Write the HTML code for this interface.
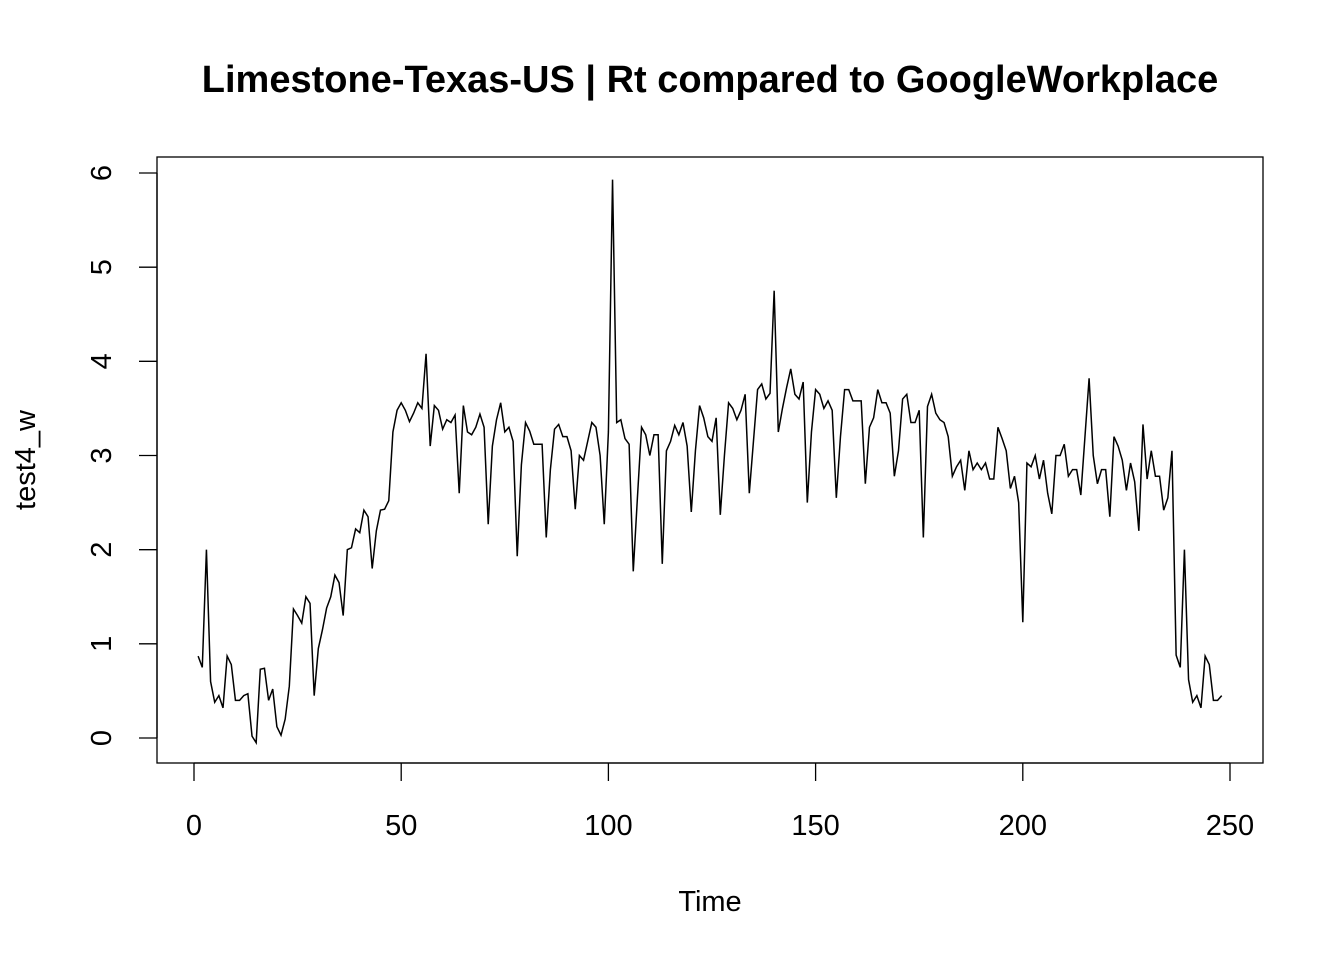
<!DOCTYPE html>
<html><head><meta charset="utf-8"><style>
body{margin:0;background:#fff;}
svg text{font-family:"Liberation Sans",Arial,sans-serif;fill:#000;}
</style></head><body>
<svg id="chart" width="1344" height="960">
<text x="710" y="92" text-anchor="middle" font-size="38" font-weight="bold">Limestone-Texas-US | Rt compared to GoogleWorkplace</text>
<rect x="157" y="157" width="1106" height="606" fill="none" stroke="#000" stroke-width="1.3"/>
<g id="xaxis"></g>
<g id="yaxis"></g>
<text x="710" y="911" text-anchor="middle" font-size="29">Time</text>
<text transform="translate(35,460) rotate(-90)" text-anchor="middle" font-size="29">test4_w</text>
<path id="line" fill="none" stroke="#000" stroke-width="1.5"/>
</svg>
<script>
const xTicks=[0,50,100,150,200,250];
const yTicks=[0,1,2,3,4,5,6];
const values=[0.87,0.75,2.0,0.6,0.38,0.45,0.32,0.87,0.78,0.4,0.4,0.45,0.47,0.02,-0.05,0.73,0.74,0.4,0.52,0.12,0.03,0.2,0.55,1.37,1.3,1.22,1.5,1.43,0.45,0.95,1.15,1.38,1.5,1.73,1.65,1.3,2.0,2.02,2.22,2.18,2.42,2.35,1.8,2.2,2.42,2.43,2.52,3.25,3.48,3.56,3.48,3.36,3.45,3.56,3.5,4.08,3.1,3.53,3.48,3.28,3.38,3.35,3.43,2.6,3.53,3.25,3.22,3.3,3.44,3.3,2.27,3.1,3.38,3.56,3.25,3.3,3.15,1.93,2.9,3.35,3.26,3.12,3.12,3.12,2.13,2.85,3.28,3.33,3.2,3.2,3.05,2.43,3.0,2.95,3.15,3.35,3.3,3.0,2.27,3.25,5.93,3.35,3.38,3.18,3.12,1.77,2.55,3.3,3.22,3.0,3.22,3.22,1.85,3.05,3.15,3.32,3.22,3.35,3.1,2.4,3.05,3.53,3.4,3.2,3.15,3.4,2.37,3.0,3.56,3.5,3.38,3.48,3.65,2.6,3.15,3.7,3.76,3.6,3.66,4.75,3.25,3.5,3.72,3.92,3.65,3.6,3.78,2.5,3.25,3.7,3.65,3.5,3.58,3.48,2.55,3.2,3.7,3.7,3.58,3.58,3.58,2.7,3.3,3.4,3.7,3.56,3.56,3.45,2.78,3.05,3.6,3.65,3.35,3.35,3.48,2.13,3.52,3.65,3.45,3.38,3.35,3.2,2.78,2.88,2.95,2.63,3.05,2.85,2.92,2.85,2.92,2.75,2.75,3.3,3.18,3.05,2.65,2.78,2.5,1.23,2.92,2.88,3.0,2.75,2.95,2.6,2.38,3.0,3.0,3.12,2.78,2.85,2.85,2.58,3.2,3.82,3.0,2.7,2.85,2.85,2.35,3.2,3.1,2.95,2.63,2.92,2.72,2.2,3.33,2.75,3.05,2.78,2.78,2.42,2.55,3.05,0.88,0.75,2.0,0.62,0.38,0.45,0.32,0.87,0.78,0.4,0.4,0.45];
const NS='http://www.w3.org/2000/svg';
const sx=t=>194+t*(1230-194)/250;
const sy=v=>738-v*(738-173)/6;
const xa=document.getElementById('xaxis'),ya=document.getElementById('yaxis');
function mk(tag,attrs,parent){const e=document.createElementNS(NS,tag);for(const k in attrs)e.setAttribute(k,attrs[k]);parent.appendChild(e);return e;}
mk('line',{x1:sx(xTicks[0]),x2:sx(xTicks[xTicks.length-1]),y1:763,y2:763,stroke:'#000','stroke-width':1.3},xa);
xTicks.forEach(t=>{
 const l=mk('line',{x1:sx(t),x2:sx(t),y1:763,y2:781,stroke:'#000','stroke-width':1.3},xa);
 
 
 const tx=mk('text',{x:sx(t),y:835,'text-anchor':'middle','font-size':29},xa);tx.textContent=t;
 
 
});
mk('line',{x1:157,x2:157,y1:sy(yTicks[0]),y2:sy(yTicks[yTicks.length-1]),stroke:'#000','stroke-width':1.3},ya);
yTicks.forEach(v=>{
 const l=mk('line',{x1:139,x2:157,y1:sy(v),y2:sy(v),stroke:'#000','stroke-width':1.3},ya);
 
 
 const tx=mk('text',{transform:`translate(111,${sy(v)}) rotate(-90)`,'text-anchor':'middle','font-size':29},ya);tx.textContent=v;
 
 
});
document.getElementById('line').setAttribute('d',values.map((v,i)=>(i?'L':'M')+sx(i+1).toFixed(2)+','+sy(v).toFixed(2)).join(''));
</script>
</body></html>
